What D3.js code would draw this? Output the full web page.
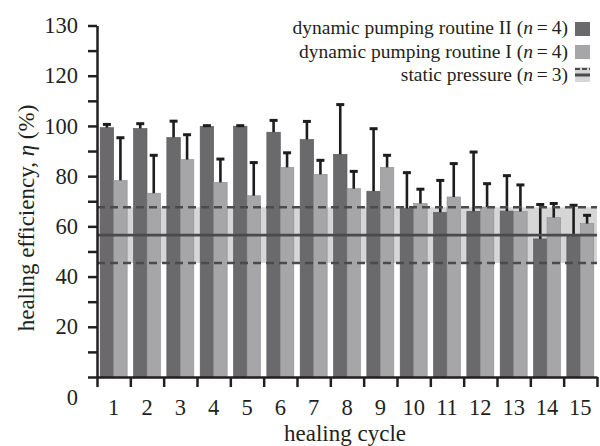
<!DOCTYPE html>
<html>
<head>
<meta charset="utf-8">
<script src="https://cdn.jsdelivr.net/npm/d3@7"></script>
<style>
	body { margin: 0; background: #fff; }
	svg text { font-family: "Liberation Serif", serif; fill: #231f20; }
</style>
</head>
<body>
<div id="chart-area"></div>
<script>

// healing cycles (x categories)
var cycles = ["1","2","3","4","5","6","7","8","9","10","11","12","13","14","15"];

// dynamic pumping routine II (n=4): mean and upper error
var routineII    = [99.3, 99.0, 95.4, 99.8, 99.9, 97.5, 94.6, 88.7, 74.0, 67.1, 65.6, 66.0, 66.1, 55.0, 56.1];
var routineIIErr = [1.3, 1.9, 6.5, 0.3, 0.2, 4.7, 7.2, 19.8, 24.9, 14.3, 12.7, 23.6, 14.1, 13.7, 12.3];

// dynamic pumping routine I (n=4)
var routineI    = [78.3, 73.2, 86.6, 77.5, 72.2, 83.5, 80.7, 75.0, 83.5, 69.1, 71.7, 67.7, 65.9, 63.5, 61.1];
var routineIErr = [17.0, 15.1, 9.9, 9.3, 13.2, 5.8, 5.6, 6.9, 4.8, 5.7, 13.3, 9.3, 10.6, 5.6, 3.3];

// static pressure (n=3): mean and standard deviation
var staticMean = 56.5,
	staticSd = 11.1;

// y ticks (the top one is printed as 130 in the original)
var yTickValues = [0, 10, 20, 30, 40, 50, 60, 70, 80, 90, 100, 110, 120, 130, 140];
var yTickLabels = ["", "", "20", "", "40", "", "60", "", "80", "", "100", "", "120", "", "130"];

var legendLabels = ["dynamic pumping routine II", "dynamic pumping routine I", "static pressure"];
var legendN = [4, 4, 3];

var width = 600,
	height = 446;
var margin = {top: 25.5, right: 3, left: 97, bottom: 69};
var serif = "Liberation Serif";
var tickFont = 22.5;

var darkColor = "#6a6a6d",
	lightColor = "#a6a6a8",
	bandColor = "#d6d6d7",
	lineColor = "#4a4a4c";

var svg = d3.select("#chart-area").append("svg")
	.attr("width", width)
	.attr("height", height)
	.attr("font-family", serif);

var x0 = margin.left,
	x1 = width - margin.right,
	yBottom = height - margin.bottom;

var xBand = d3.scaleBand()
	.domain(cycles)
	.range([x0, x1])
	.paddingInner(0.19)
	.paddingOuter(0.095);

var xEdge = d3.scaleLinear()
	.domain([0, cycles.length])
	.range([x0, x1]);

var yScale = d3.scaleLinear()
	.domain([0, 140])
	.range([yBottom, margin.top]);

var barW = xBand.bandwidth() / 2;

// static pressure band (behind the bars)
svg.append("rect")
	.attr("x", x0)
	.attr("width", x1 - x0)
	.attr("y", yScale(staticMean + staticSd))
	.attr("height", yScale(staticMean - staticSd) - yScale(staticMean + staticSd))
	.attr("fill", bandColor);

// bars
var groups = svg.selectAll("g.cycle")
	.data(cycles)
	.enter()
	.append("g")
	.attr("class", "cycle");

groups.append("rect")
	.attr("x", function(d) { return xBand(d); })
	.attr("y", function(d, i) { return yScale(routineII[i]); })
	.attr("width", barW)
	.attr("height", function(d, i) { return yBottom - yScale(routineII[i]); })
	.attr("fill", darkColor)
	.attr("stroke", "#58585b")
	.attr("stroke-width", 0.6);

groups.append("rect")
	.attr("x", function(d) { return xBand(d) + barW; })
	.attr("y", function(d, i) { return yScale(routineI[i]); })
	.attr("width", barW)
	.attr("height", function(d, i) { return yBottom - yScale(routineI[i]); })
	.attr("fill", lightColor)
	.attr("stroke", "#8e8e90")
	.attr("stroke-width", 0.6);

// error bars (upper only)
var drawErr = function(offset, means, errs) {
	var cx = function(d) { return xBand(d) + offset; };
	svg.selectAll(null)
		.data(cycles)
		.enter()
		.append("line")
		.attr("x1", cx).attr("x2", cx)
		.attr("y1", function(d, i) { return yScale(means[i]); })
		.attr("y2", function(d, i) { return yScale(means[i] + errs[i]); })
		.attr("stroke", "#1e1c1d")
		.attr("stroke-width", 2.6);
	svg.selectAll(null)
		.data(cycles)
		.enter()
		.append("line")
		.attr("x1", function(d) { return cx(d) - 4; })
		.attr("x2", function(d) { return cx(d) + 4; })
		.attr("y1", function(d, i) { return yScale(means[i] + errs[i]); })
		.attr("y2", function(d, i) { return yScale(means[i] + errs[i]); })
		.attr("stroke", "#1e1c1d")
		.attr("stroke-width", 3);
};
drawErr(barW / 2, routineII, routineIIErr);
drawErr(barW * 1.5, routineI, routineIErr);

// static pressure lines (on top)
[staticMean + staticSd, staticMean - staticSd].forEach(function(v) {
	svg.append("line")
		.attr("x1", x0).attr("x2", x1)
		.attr("y1", yScale(v)).attr("y2", yScale(v))
		.attr("stroke", lineColor)
		.attr("stroke-width", 2.4)
		.attr("stroke-dasharray", "8,5");
});
svg.append("line")
	.attr("x1", x0).attr("x2", x1)
	.attr("y1", yScale(staticMean)).attr("y2", yScale(staticMean))
	.attr("stroke", lineColor)
	.attr("stroke-width", 2.8);

// y axis
var yAxis = d3.axisLeft(yScale)
	.tickValues(yTickValues)
	.tickSize(9)
	.tickSizeOuter(0)
	.tickPadding(10)
	.tickFormat(function(d, i) { return yTickLabels[i]; });

var gy = svg.append("g")
	.attr("class", "yAxis")
	.attr("transform", "translate(" + x0 + ",0)")
	.call(yAxis)
	.attr("font-family", serif);
gy.selectAll("line").attr("stroke", "#231f20").attr("stroke-width", 2.5);
gy.select(".domain").attr("stroke", "#231f20").attr("stroke-width", 2.5);
gy.selectAll("text").attr("font-size", tickFont).attr("fill", "#231f20");

// x axis: boundary ticks
var xAxisTicks = d3.axisBottom(xEdge)
	.ticks(cycles.length)
	.tickSize(10)
	.tickSizeOuter(0)
	.tickFormat("");
var gx = svg.append("g")
	.attr("class", "xAxis")
	.attr("transform", "translate(0," + yBottom + ")")
	.call(xAxisTicks);
gx.selectAll("line").attr("stroke", "#231f20").attr("stroke-width", 2.5);
gx.select(".domain").attr("stroke", "#231f20").attr("stroke-width", 2.5);

// x axis: labels at centres
var gxl = svg.append("g")
	.attr("transform", "translate(0," + yBottom + ")")
	.call(d3.axisBottom(xBand).tickSize(0))
	.attr("font-family", serif);
gxl.select(".domain").remove();
gxl.selectAll("text")
	.attr("y", 38).attr("dy", 0)
	.attr("font-size", tickFont).attr("fill", "#231f20");

// separate 0 label below the corner
svg.append("text")
	.attr("x", 78)
	.attr("y", 405)
	.attr("text-anchor", "end")
	.attr("font-size", tickFont)
	.text("0");

// axis titles
svg.append("text")
	.attr("x", 345)
	.attr("y", 441)
	.attr("text-anchor", "middle")
	.attr("font-size", 23)
	.text("healing cycle");

var yt = svg.append("text")
	.attr("transform", "translate(34,218) rotate(-90)")
	.attr("text-anchor", "middle")
	.attr("font-size", 23);
yt.append("tspan").text("healing efficiency, ");
yt.append("tspan").attr("font-style", "italic").text("η");
yt.append("tspan").text(" (%)");

// legend
var legendY = [34, 58, 81];
legendLabels.forEach(function(label, i) {
	var t = svg.append("text")
		.attr("x", 568)
		.attr("y", legendY[i])
		.attr("text-anchor", "end")
		.attr("font-size", 19.5);
	t.append("tspan").text(label + " (");
	t.append("tspan").attr("font-style", "italic").text("n");
	t.append("tspan").text("\u2009=\u2009" + legendN[i] + ")");
});
svg.append("rect").attr("x", 575).attr("y", 22).attr("width", 15).attr("height", 14).attr("fill", darkColor);
svg.append("rect").attr("x", 575).attr("y", 45).attr("width", 15).attr("height", 14).attr("fill", lightColor);
svg.append("rect").attr("x", 575).attr("y", 67).attr("width", 15).attr("height", 15).attr("fill", bandColor);
svg.append("line").attr("x1", 575).attr("x2", 590).attr("y1", 69).attr("y2", 69)
	.attr("stroke", lineColor).attr("stroke-width", 2).attr("stroke-dasharray", "5,2");
svg.append("line").attr("x1", 575).attr("x2", 590).attr("y1", 75).attr("y2", 75)
	.attr("stroke", lineColor).attr("stroke-width", 3);

</script>
</body>
</html>
